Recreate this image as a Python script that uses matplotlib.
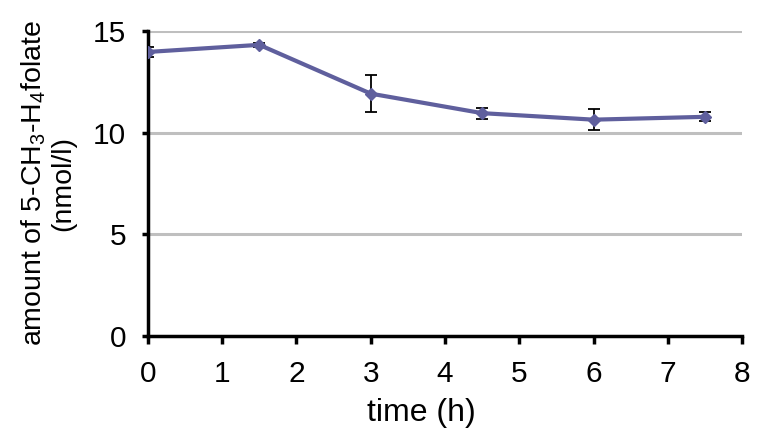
import matplotlib.pyplot as plt

plt.rcParams['font.family'] = ['Liberation Sans Narrow', 'Liberation Sans', 'DejaVu Sans']
plt.rcParams['mathtext.fontset'] = 'custom'
plt.rcParams['mathtext.rm'] = 'Liberation Sans'
plt.rcParams['mathtext.default'] = 'regular'

# data
time_h = [0, 1.5, 3, 4.5, 6, 7.5]
folate = [13.97, 14.32, 11.92, 10.96, 10.64, 10.78]
err = [0.25, 0.1, 0.92, 0.27, 0.53, 0.23]

fig = plt.figure(figsize=(7.66, 4.43), dpi=100)
ax = fig.add_axes([0.193, 0.2415, 0.776, 0.6885])

for yv in [5, 10, 15]:
    ax.axhline(yv, color='#bfbfbf', lw=2.2, zorder=0)

ax.errorbar(time_h, folate, yerr=err, color='#5f5f9d', lw=3, marker='D', ms=6,
            ecolor='black', elinewidth=1.3, capsize=4, capthick=1.3, zorder=3)

ax.set_xlim(0, 8)
ax.set_ylim(0, 15)
ax.set_xticks(range(0, 9))
ax.set_yticks([0, 5, 10, 15])
for s in ['top', 'right']:
    ax.spines[s].set_visible(False)
for s in ['left', 'bottom']:
    ax.spines[s].set_linewidth(2.5)
    ax.spines[s].set_color('black')
ax.tick_params(axis='x', direction='out', length=5.5, width=2.5, labelsize=21.5, pad=12)
ax.tick_params(axis='y', direction='out', length=4.5, width=2.5, labelsize=21.5, pad=11)
ax.set_xlabel('time (h)', fontsize=23, labelpad=7)
ax.xaxis.label.set_x(0.461)
ax.set_ylabel('amount of 5-CH$_3$-H$_4$folate\n(nmol/l)', fontsize=20.5, labelpad=12,
              linespacing=1.1, family=['Liberation Sans', 'DejaVu Sans'])

fig.savefig('out.png', dpi=100)
